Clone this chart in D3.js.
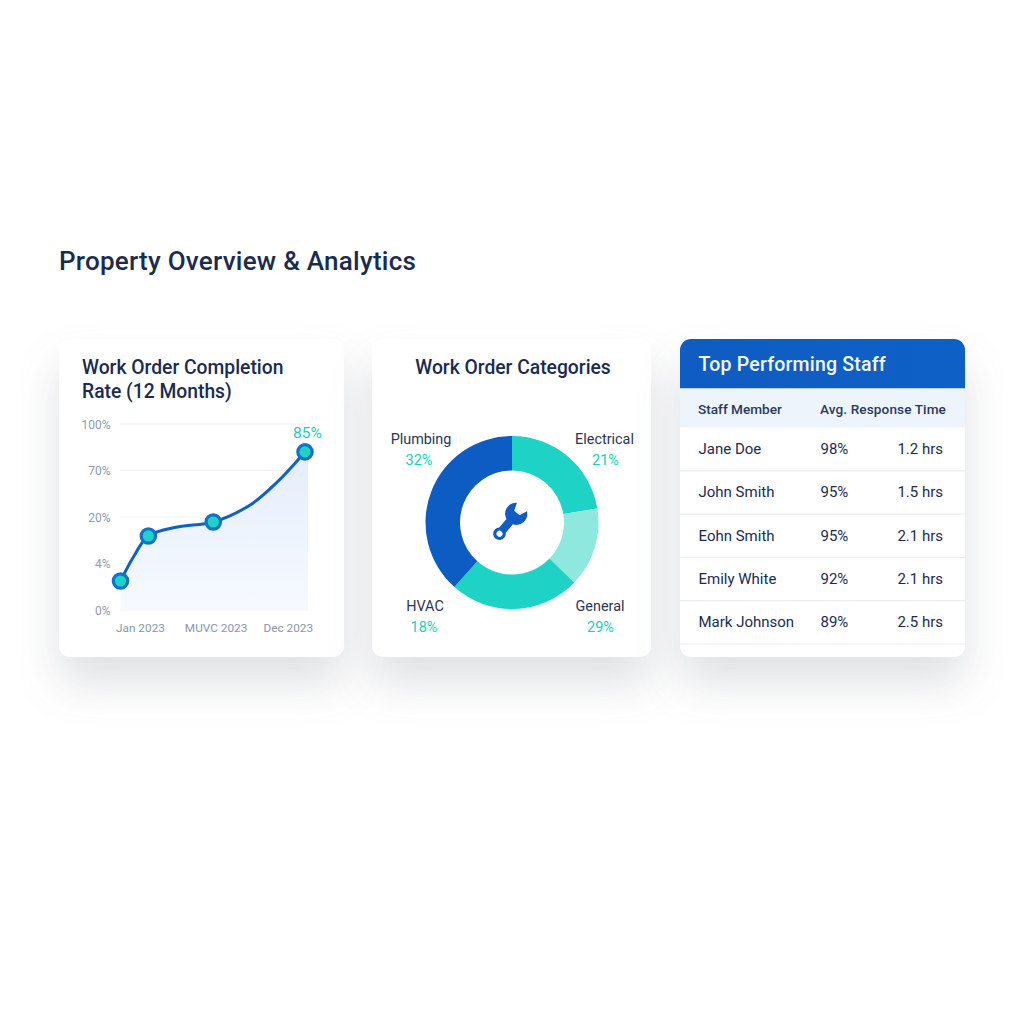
<!DOCTYPE html>
<html>
<head>
<meta charset="utf-8">
<script src="https://cdn.jsdelivr.net/npm/d3@7"></script>
<style>
  html, body { margin: 0; padding: 0; background: #fff; }
  svg { display: block; font-family: Roboto, sans-serif; }
</style>
</head>
<body>
<div id="chart"></div>
<script>
// line chart, months counted from Jan 2023 = 0
const lineMonths = [0, 0.77, 1.66, 3.39, 5.53, 7.73, 9.34, 11];
const lineValues = [15.6, 28.5, 39.8, 44.6, 47.3, 56.5, 68.8, 85];
const markedMonths = [0, 1.66, 5.53, 11];
const markedValues = [15.6, 39.8, 47.3, 85];
const yTicks = [0, 25, 50, 75, 100];
const yTickLabels = ["0%", "4%", "20%", "70%", "100%"];
const xTicks = [1.19, 5.7, 10];
const xTickLabels = ["Jan 2023", "MUVC 2023", "Dec 2023"];

// donut
const sliceNames = ["Electrical", "General light", "General", "Plumbing"];
const sliceShares = [22.4, 14.8, 24.4, 38.4];
const categories = ["Plumbing", "Electrical", "HVAC", "General"];
const categoryPercents = ["32%", "21%", "18%", "29%"];

// table
const staffNames = ["Jane Doe", "John Smith", "Eohn Smith", "Emily White", "Mark Johnson"];
const staffRates = ["98%", "95%", "95%", "92%", "89%"];
const staffTimes = ["1.2 hrs", "1.5 hrs", "2.1 hrs", "2.1 hrs", "2.5 hrs"];

const navy = "#1b2b50";
const teal = "#1ed2c6";
const tealText = "#17d2b6";
const blue = "#0d5cc4";

const svg = d3.select("#chart").append("svg").attr("width", 1024).attr("height", 1024);
const defs = svg.append("defs");

const shadow = defs.append("filter").attr("id", "cardShadow")
  .attr("filterUnits", "userSpaceOnUse")
  .attr("color-interpolation-filters", "sRGB")
  .attr("x", 0).attr("y", 250).attr("width", 1024).attr("height", 600);
shadow.append("feDropShadow").attr("dx", 0).attr("dy", 26).attr("stdDeviation", 22)
  .attr("flood-color", "#39424f").attr("flood-opacity", 0.16);

const areaGrad = defs.append("linearGradient").attr("id", "areaGrad")
  .attr("x1", 0).attr("y1", 0).attr("x2", 0).attr("y2", 1);
areaGrad.append("stop").attr("offset", "0%").attr("stop-color", "#e4edfb");
areaGrad.append("stop").attr("offset", "100%").attr("stop-color", "#f6faff");

const headGrad = defs.append("linearGradient").attr("id", "headGrad")
  .attr("x1", 0).attr("y1", 0).attr("x2", 1).attr("y2", 0);
headGrad.append("stop").attr("offset", "0%").attr("stop-color", "#0f5cc2");
headGrad.append("stop").attr("offset", "100%").attr("stop-color", "#0e60c6");

svg.append("text").attr("x", 59).attr("y", 270)
  .attr("font-size", 26).attr("font-weight", 500).attr("fill", navy)
  .attr("letter-spacing", 0.25)
  .text("Property Overview & Analytics");

// cards
const cards = [[59, 285], [372, 279], [680, 285]];
svg.selectAll(".card").data(cards).join("rect")
  .attr("class", "card")
  .attr("x", d => d[0]).attr("y", 339)
  .attr("width", d => d[1]).attr("height", 318)
  .attr("rx", 11).attr("fill", "#fff")
  .attr("filter", "url(#cardShadow)");

// ---- line chart
const xScale = d3.scaleLinear().domain([0, 11]).range([120.5, 305]);
const yScale = d3.scaleLinear().domain([0, 100]).range([610, 424]);
const line1 = svg.append("g");

line1.append("text").attr("x", 82).attr("y", 374)
  .attr("font-size", 19.3).attr("font-weight", 500).attr("fill", navy)
  .text("Work Order Completion");
line1.append("text").attr("x", 82).attr("y", 398)
  .attr("font-size", 19.3).attr("font-weight", 500).attr("fill", navy)
  .text("Rate (12 Months)");

line1.selectAll(".grid").data(yTicks).join("line")
  .attr("class", "grid")
  .attr("x1", 120).attr("x2", 308)
  .attr("y1", d => yScale(d)).attr("y2", d => yScale(d))
  .attr("stroke", "#edf1f7").attr("stroke-width", 1.2);

line1.selectAll(".ytick").data(yTicks).join("text")
  .attr("class", "ytick")
  .attr("x", 110.5).attr("y", d => yScale(d) + 4.5)
  .attr("text-anchor", "end").attr("font-size", 12).attr("fill", "#8f9ab3")
  .text((d, i) => yTickLabels[i]);

line1.selectAll(".xtick").data(xTicks).join("text")
  .attr("class", "xtick")
  .attr("x", d => xScale(d)).attr("y", 631.5)
  .attr("text-anchor", "middle").attr("font-size", 11.8).attr("fill", "#8a95af")
  .text((d, i) => xTickLabels[i]);

const linePoints = lineMonths.map((m, i) => [m, lineValues[i]]);
const area = d3.area().curve(d3.curveCatmullRom)
  .x(d => xScale(d[0])).y0(yScale(0)).y1(d => yScale(d[1]));
// area runs a little past the last point, to the end of the grid
line1.append("path")
  .datum(linePoints.concat([[11.18, 85]]))
  .attr("d", area).attr("fill", "url(#areaGrad)");

const lineGen = d3.line().curve(d3.curveCatmullRom)
  .x(d => xScale(d[0])).y(d => yScale(d[1]));
line1.append("path").datum(linePoints)
  .attr("d", lineGen).attr("fill", "none")
  .attr("stroke", "#1160c8").attr("stroke-width", 3).attr("stroke-linecap", "round");

line1.selectAll(".dot").data(markedMonths).join("circle")
  .attr("class", "dot")
  .attr("cx", d => xScale(d))
  .attr("cy", (d, i) => yScale(markedValues[i]))
  .attr("r", 7.2)
  .attr("fill", teal).attr("stroke", "#1172c8").attr("stroke-width", 3.2);

line1.append("text").attr("x", xScale(11) + 2.5).attr("y", yScale(85) - 14)
  .attr("text-anchor", "middle").attr("font-size", 15.5).attr("fill", tealText)
  .text("85%");

// ---- donut
const cx = 512, cy = 522.5;
const donut = svg.append("g").attr("transform", `translate(${cx},${cy})`);
const pie = d3.pie().sort(null).value(d => d);
const arc = d3.arc().innerRadius(52).outerRadius(86.5);
const sliceColor = d3.scaleOrdinal().domain(sliceNames).range([teal, "#8fe8de", teal, blue]);

donut.selectAll(".slice").data(pie(sliceShares)).join("path")
  .attr("class", "slice")
  .attr("d", arc)
  .attr("fill", (d, i) => sliceColor(sliceNames[i]));

svg.append("text").attr("x", 513).attr("y", 374)
  .attr("text-anchor", "middle").attr("font-size", 19.3).attr("font-weight", 500).attr("fill", navy)
  .text("Work Order Categories");

const labelX = d3.scaleOrdinal().domain(categories).range([421, 604.5, 425, 600]);
const labelY = d3.scaleOrdinal().domain(categories).range([444, 444, 611, 611]);
const pctX = d3.scaleOrdinal().domain(categories).range([419, 605.5, 424, 600.5]);

svg.selectAll(".catName").data(categories).join("text")
  .attr("class", "catName")
  .attr("x", d => labelX(d)).attr("y", d => labelY(d))
  .attr("text-anchor", "middle").attr("font-size", 14.4).attr("fill", "#2a3656")
  .text(d => d);
svg.selectAll(".catPct").data(categories).join("text")
  .attr("class", "catPct")
  .attr("x", d => pctX(d)).attr("y", d => labelY(d) + 21)
  .attr("text-anchor", "middle").attr("font-size", 14.5).attr("fill", tealText)
  .text((d, i) => categoryPercents[i]);

// wrench icon
const wrench = svg.append("g").attr("transform", "translate(508.5,523) rotate(40)");
wrench.append("path")
  .attr("fill", "#0f5cc6")
  .attr("fill-rule", "evenodd")
  .attr("d", "M-4.2,-1.8 A11,11 0 0 1 -6.5,-20.9 L-3.5,-13 L3.5,-13 L6.5,-20.9 A11,11 0 0 1 4.2,-1.8 L4.2,9.3 A6.3,6.3 0 1 1 -4.2,9.3 Z M0,11 A3,3 0 1 0 0.01,17 A3,3 0 1 0 0,11 Z");

// ---- table
const tableClip = defs.append("clipPath").attr("id", "tableClip");
tableClip.append("rect").attr("x", 680).attr("y", 339).attr("width", 285).attr("height", 318).attr("rx", 11);
const table = svg.append("g").attr("clip-path", "url(#tableClip)");

table.append("rect").attr("x", 680).attr("y", 339).attr("width", 285).attr("height", 49.5).attr("fill", "url(#headGrad)");
table.append("rect").attr("x", 680).attr("y", 388.5).attr("width", 285).attr("height", 39).attr("fill", "#eef4fc");

svg.append("text").attr("x", 698.5).attr("y", 371)
  .attr("font-size", 19.5).attr("font-weight", 500).attr("fill", "#f4f8fe")
  .attr("letter-spacing", 0.2)
  .text("Top Performing Staff");

svg.append("text").attr("x", 698).attr("y", 414)
  .attr("font-size", 13.6).attr("font-weight", 500).attr("fill", "#2a3a5c")
  .text("Staff Member");
svg.append("text").attr("x", 820).attr("y", 414)
  .attr("font-size", 13.6).attr("font-weight", 500).attr("fill", "#2a3a5c")
  .attr("letter-spacing", 0.1)
  .text("Avg. Response Time");

const rowY = d3.scaleBand().domain(staffNames).range([427.5, 644]);
const rows = svg.selectAll(".row").data(staffNames).join("g")
  .attr("class", "row")
  .attr("transform", d => `translate(0,${rowY(d)})`);

rows.append("line")
  .attr("x1", 680).attr("x2", 965)
  .attr("y1", rowY.bandwidth()).attr("y2", rowY.bandwidth())
  .attr("stroke", "#e9eef5").attr("stroke-width", 1.2);
rows.append("text").attr("x", 698.5).attr("y", 26.5)
  .attr("font-size", 15).attr("fill", navy)
  .text(d => d);
rows.append("text").attr("x", 820.5).attr("y", 26.5)
  .attr("font-size", 15).attr("fill", navy)
  .text((d, i) => staffRates[i]);
rows.append("text").attr("x", 943).attr("y", 26.5)
  .attr("text-anchor", "end").attr("font-size", 15).attr("fill", navy)
  .text((d, i) => staffTimes[i]);
</script>
</body>
</html>
